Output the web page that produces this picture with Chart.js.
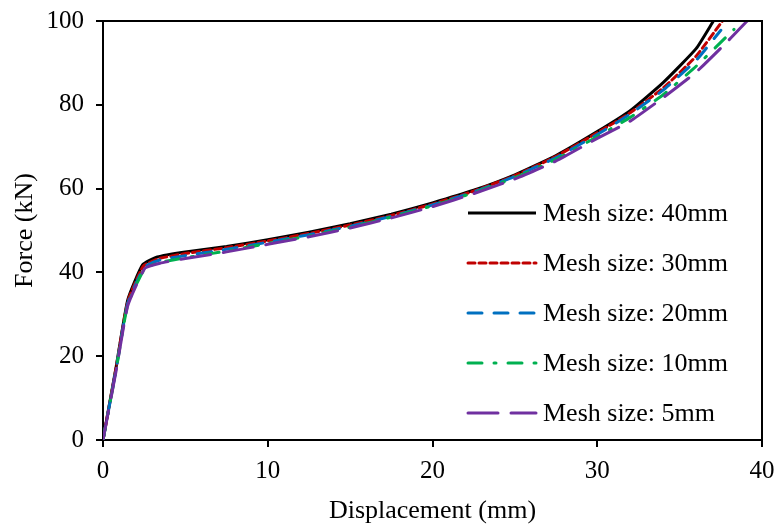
<!DOCTYPE html>
<html>
<head>
<meta charset="utf-8">
<script src="https://cdn.jsdelivr.net/npm/chart.js@4"></script>
<style>
  body { margin: 0; background: #fff; }
</style>
</head>
<body>
<canvas id="grafico" width="776" height="525"></canvas>
<script>
// dados (deslocamento em mm, força em kN)
var nomes = ["Mesh size: 40mm", "Mesh size: 30mm", "Mesh size: 20mm", "Mesh size: 10mm", "Mesh size: 5mm"];

var x40 = [0, 0.8, 1.5, 2.4, 3.3, 5, 7.5, 10, 12.5, 15, 17.5, 20, 22.5, 25, 27.5, 30, 32, 34, 36, 37.05];
var y40 = [0, 17.5, 33.4, 41.8, 43.7, 44.9, 46.2, 47.8, 49.6, 51.6, 53.9, 56.6, 59.6, 63.3, 67.9, 73.6, 78.6, 85.3, 93.4, 100];

var x30 = [0, 0.8, 1.5, 2.45, 3.4, 5, 7.5, 10, 12.5, 15, 17.5, 20, 22.5, 25, 27.5, 30, 32, 34, 36, 37.6];
var y30 = [0, 17.3, 33.0, 41.5, 43.3, 44.5, 45.9, 47.5, 49.3, 51.3, 53.6, 56.3, 59.4, 63.1, 67.7, 73.3, 78.1, 84.0, 91.6, 100];

var x20 = [0, 0.8, 1.5, 2.5, 3.4, 5, 7.5, 10, 12.5, 15, 17.5, 20, 22.5, 25, 27.5, 30, 32, 34, 36, 37.5];
var y20 = [0, 17.0, 32.6, 41.2, 42.9, 44.0, 45.5, 47.2, 49.0, 51.0, 53.4, 56.1, 59.2, 62.9, 67.4, 72.9, 77.8, 83.5, 90.6, 97.8];

var x10 = [0, 0.8, 1.5, 2.55, 3.5, 5, 7.5, 10, 12.5, 15, 17.5, 20, 22.5, 25, 27.5, 30, 32, 34, 36, 38.3];
var y10 = [0, 16.8, 32.3, 41.0, 42.4, 43.5, 45.1, 46.9, 48.7, 50.8, 53.2, 55.9, 59.0, 62.6, 67.0, 72.4, 77.0, 82.4, 89.2, 98.0];

var x5 = [0, 0.8, 1.5, 2.55, 3.46, 5, 7.5, 10, 12.5, 15, 17.5, 20, 22.5, 25, 27.5, 30, 32, 34, 36, 38, 39.1];
var y5 = [0, 16.6, 32.0, 41.0, 42.2, 43.3, 44.9, 46.7, 48.5, 50.6, 53.0, 55.7, 58.8, 62.3, 66.6, 72.0, 76.1, 81.7, 87.8, 95.5, 100];

var xTicks = [0, 10, 20, 30, 40];
var yTicks = [0, 20, 40, 60, 80, 100];

var cores = ["#000000", "#c00000", "#0070c0", "#00b050", "#7030a0"];
var tracos = [[], [7, 4], [14, 12], [14, 12, 2, 12], [30, 13]];

function pontos(xs, ys) {
    var p = [];
    for (var i = 0; i < xs.length; i++) {
        p.push({ x: xs[i], y: ys[i] });
    }
    return p;
}

var series = [pontos(x40, y40), pontos(x30, y30), pontos(x20, y20), pontos(x10, y10), pontos(x5, y5)];

var datasets = [];
for (var i = 0; i < series.length; i++) {
    datasets.push({
        label: nomes[i],
        data: series[i],
        showLine: true,
        borderColor: cores[i],
        backgroundColor: cores[i],
        borderWidth: 3,
        borderDash: tracos[i],
        borderCapStyle: i == 0 ? 'butt' : 'round',
        pointRadius: 0,
        tension: 0.15,
        order: 5 - i
    });
}

var fonte = "'Liberation Serif', 'Times New Roman', serif";

// * caixa em volta da área do gráfico
var caixa = {
    id: 'caixa',
    afterDraw: function (chart) {
        var a = chart.chartArea;
        var ctx = chart.ctx;
        ctx.save();
        ctx.strokeStyle = '#000';
        ctx.lineWidth = 2;
        ctx.beginPath();
        ctx.moveTo(a.left, a.top);
        ctx.lineTo(a.right, a.top);
        ctx.lineTo(a.right, a.bottom);
        ctx.stroke();
        ctx.restore();
    }
};

// * legenda desenhada dentro da área do gráfico
var legenda = {
    id: 'legenda',
    afterDraw: function (chart) {
        var ctx = chart.ctx;
        ctx.save();
        ctx.font = "26px " + fonte;
        ctx.textBaseline = 'middle';
        ctx.fillStyle = '#000';
        chart.data.datasets.forEach(function (ds, i) {
            var y = 213 + i * 50;
            ctx.strokeStyle = ds.borderColor;
            ctx.lineWidth = 3;
            ctx.lineCap = ds.borderCapStyle;
            ctx.setLineDash(ds.borderDash);
            ctx.beginPath();
            ctx.moveTo(468, y);
            ctx.lineTo(536, y);
            ctx.stroke();
            ctx.setLineDash([]);
            ctx.fillText(ds.label, 543, y + 1);
        });
        ctx.restore();
    }
};

new Chart(document.getElementById("grafico"), {
    type: 'scatter',
    data: { datasets: datasets },
    plugins: [caixa, legenda],
    options: {
        responsive: false,
        animation: false,
        layout: { padding: { top: 21, right: 14, left: 0, bottom: 0 } },
        plugins: {
            legend: { display: false },
            tooltip: { enabled: false }
        },
        scales: {
            x: {
                type: 'linear',
                min: 0,
                max: 40,
                afterFit: function (s) { s.height = 85; s.paddingLeft = 0; s.paddingRight = 0; },
                afterBuildTicks: function (s) { s.ticks = xTicks.map(function (v) { return { value: v }; }); },
                border: { color: '#000', width: 2 },
                grid: { drawOnChartArea: false, drawTicks: true, tickLength: 7, color: '#000', lineWidth: 2 },
                ticks: { color: '#000', padding: 9, maxRotation: 0, font: { family: fonte, size: 25 } },
                title: { display: true, text: 'Displacement (mm)', color: '#000', padding: { top: 0, bottom: 0 }, font: { family: fonte, size: 26, lineHeight: 1.1 } }
            },
            y: {
                type: 'linear',
                min: 0,
                max: 100,
                afterFit: function (s) { s.width = 103; s.paddingTop = 0; s.paddingBottom = 0; },
                afterBuildTicks: function (s) { s.ticks = yTicks.map(function (v) { return { value: v }; }); },
                border: { color: '#000', width: 2 },
                grid: { drawOnChartArea: false, drawTicks: true, tickLength: 7, color: '#000', lineWidth: 2 },
                ticks: { color: '#000', padding: 12, font: { family: fonte, size: 25 } },
                title: { display: true, text: 'Force (kN)', color: '#000', padding: { top: 10, bottom: 0 }, font: { family: fonte, size: 26 } }
            }
        }
    }
});
</script>
</body>
</html>
